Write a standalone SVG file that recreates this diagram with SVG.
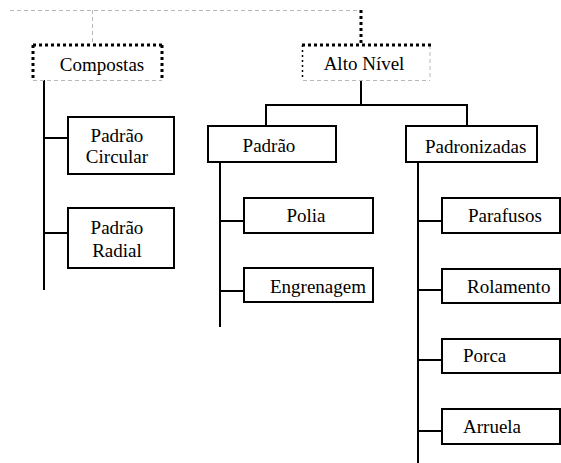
<svg xmlns="http://www.w3.org/2000/svg" width="561" height="463" viewBox="0 0 561 463">
  <style>
    .box { fill: #fff; stroke: #000; stroke-width: 2; }
    .wire { fill: none; stroke: #000; stroke-width: 2; }
    .dots { fill: none; stroke: #000; stroke-width: 3; stroke-dasharray: 3 3; }
    .thin-dots { fill: none; stroke: #000; stroke-width: 1.5; stroke-dasharray: 2 3; }
    .ghost { fill: none; stroke: #b8b8b8; stroke-width: 1; stroke-dasharray: 4 3; }
    .mid { text-anchor: middle; }
    .lbl { font-family: "Liberation Serif", "DejaVu Serif", serif; font-size: 19px; fill: #000; }
  </style>

  <!-- connectors -->
  <g id="connectors">
    <path class="ghost" d="M10,10.5 H361 M92.5,10 V45"/>
    <path class="dots" d="M361,10 V44"/>
    <path class="wire" d="M44,80 V290 M44,138 H68 M44,233 H68"/>
    <path class="wire" d="M361,80 V105 M266,105 H467 M266,104 V126 M467,104 V126"/>
    <path class="wire" d="M220,162 V327 M220,221 H244 M220,291 H244"/>
    <path class="wire" d="M418,162 V463 M418,221 H442 M418,290 H442 M418,360 H442 M418,431 H442"/>
  </g>

  <!-- top-level groups with dotted frames -->
  <g id="compostas">
    <path class="ghost" d="M33,80.5 H162"/>
    <path class="dots" d="M33,45 H162 M33,45 V80 M162,45 V80"/>
    <text class="lbl mid" x="102" y="71">Compostas</text>
  </g>
  <g id="alto-nivel">
    <path class="ghost" d="M303,80.5 H430 M430,45 V80"/>
    <path class="thin-dots" d="M302.5,45 V80"/>
    <path class="dots" d="M302,45 H433"/>
    <text class="lbl mid" x="364" y="70">Alto Nível</text>
  </g>

  <!-- Compostas children -->
  <g id="padrao-circular">
    <rect class="box" x="68" y="117" width="106" height="57"/>
    <text class="lbl mid" x="117" y="142">Padrão</text>
    <text class="lbl mid" x="117" y="163">Circular</text>
  </g>
  <g id="padrao-radial">
    <rect class="box" x="68" y="208" width="106" height="60"/>
    <text class="lbl mid" x="117" y="234">Padrão</text>
    <text class="lbl mid" x="117" y="257">Radial</text>
  </g>

  <!-- Alto Nível children -->
  <g id="padrao">
    <rect class="box" x="208" y="126" width="128" height="36"/>
    <text class="lbl mid" x="269" y="152">Padrão</text>
  </g>
  <g id="polia">
    <rect class="box" x="244" y="198" width="129" height="35"/>
    <text class="lbl mid" x="306" y="222">Polia</text>
  </g>
  <g id="engrenagem">
    <rect class="box" x="244" y="268" width="129" height="34"/>
    <text class="lbl" x="270" y="293">Engrenagem</text>
  </g>

  <g id="padronizadas">
    <rect class="box" x="406" y="126" width="131" height="36"/>
    <text class="lbl" x="425" y="153">Padronizadas</text>
  </g>
  <g id="parafusos">
    <rect class="box" x="442" y="198" width="118" height="35"/>
    <text class="lbl" x="468" y="222">Parafusos</text>
  </g>
  <g id="rolamento">
    <rect class="box" x="442" y="269" width="118" height="34"/>
    <text class="lbl" x="467" y="293">Rolamento</text>
  </g>
  <g id="porca">
    <rect class="box" x="442" y="339" width="118" height="34"/>
    <text class="lbl" x="463" y="362">Porca</text>
  </g>
  <g id="arruela">
    <rect class="box" x="442" y="409" width="118" height="35"/>
    <text class="lbl" x="463" y="433">Arruela</text>
  </g>
</svg>
